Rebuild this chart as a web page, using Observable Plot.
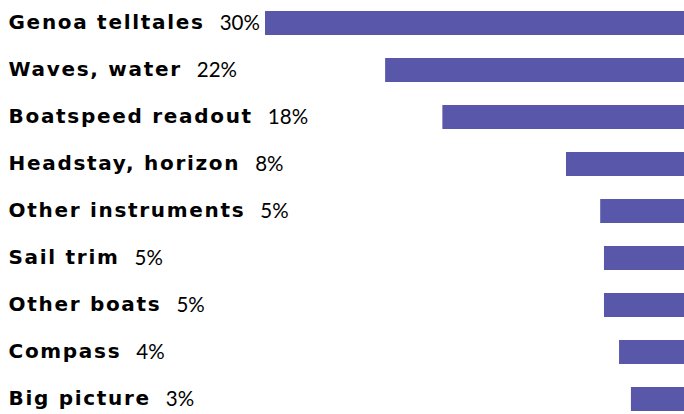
<!DOCTYPE html>
<html><head><meta charset="utf-8">
<script src="https://cdn.jsdelivr.net/npm/d3@7"></script>
<script src="https://cdn.jsdelivr.net/npm/@observablehq/plot@0.6"></script>
<style>
html,body{margin:0;padding:0;background:#fff}
svg{display:block}
g.names text{letter-spacing:1.7px}
</style>
</head><body><div id="chart"></div>
<script>
const categories = ["Genoa telltales","Waves, water","Boatspeed readout","Headstay, horizon","Other instruments","Sail trim","Other boats","Compass","Big picture"];
const pctLabels = ["30%","22%","18%","8%","5%","5%","5%","4%","3%"];
const shares = [30, 21.4, 17.3, 8.45, 6.0, 5.73, 5.73, 4.65, 3.8];

const data = categories.map((c, i) => ({category: c, share: shares[i], pct: pctLabels[i]}));

const chart = Plot.plot({
  width: 684, height: 414,
  marginLeft: 0, marginRight: 0, marginTop: 0, marginBottom: 0,
  x: {domain: [0, 30], range: [684, 265], axis: null},
  y: {domain: categories, range: [9, 412], paddingInner: 0.49, paddingOuter: 0, axis: null},
  style: {background: "#fff", fontFamily: "Lato, 'Open Sans', sans-serif"},
  marks: [
    Plot.barX(data, {y: "category", x: "share", fill: "#5957a9"}),
    Plot.text(data, {y: "category", text: "category", frameAnchor: "left", textAnchor: "start", dx: 8, dy: -0.5,
      fontFamily: "'DejaVu Sans', sans-serif", fontWeight: "bold", fontSize: 20, fill: "#000", className: "names"}),
    Plot.text(data, {y: "category", text: "pct", frameAnchor: "left", textAnchor: "start", dx: 8, dy: -0.5,
      fontFamily: "Lato, sans-serif", fontWeight: 400, fontSize: 20.5, fill: "#000", className: "pcts"})
  ]
});
document.getElementById("chart").appendChild(chart);

function placePcts() {
  const names = chart.querySelectorAll("g.names text");
  const pcts = chart.querySelectorAll("g.pcts text");
  names.forEach((t, i) => {
    const w = t.getBBox().width;
    const p = pcts[i];
    const baseX = +(t.getAttribute("x") || 0);
    p.setAttribute("x", baseX + w + 15);
  });
}
placePcts();
if (document.fonts && document.fonts.ready) document.fonts.ready.then(placePcts);
</script>
</body></html>
